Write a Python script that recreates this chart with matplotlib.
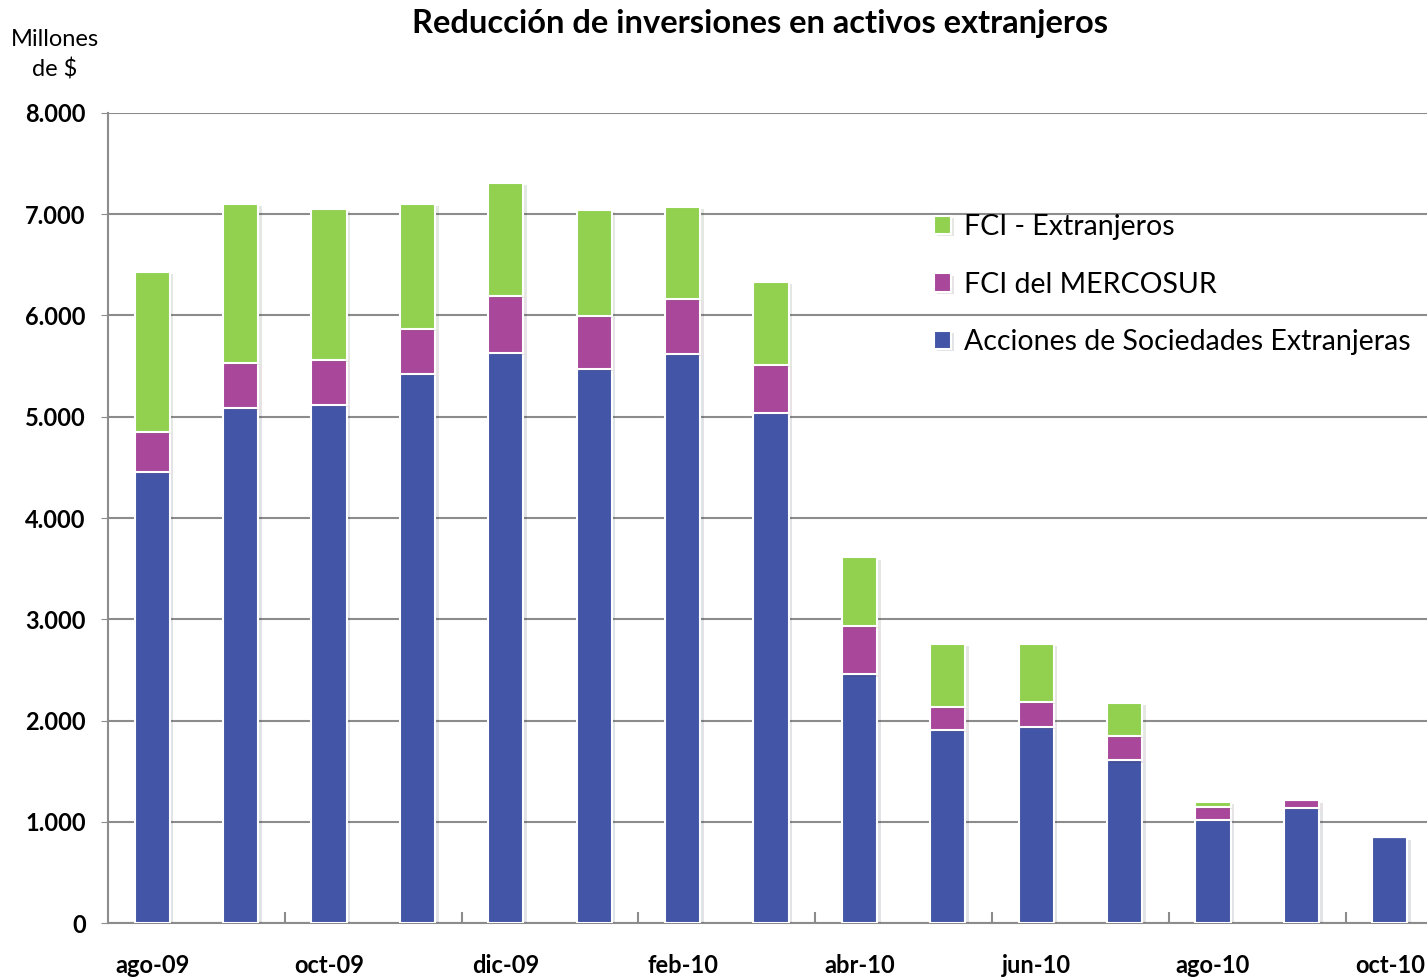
"""Stacked bars: reducción de inversiones en activos extranjeros (ago-09 a oct-10)."""

import matplotlib.pyplot as plt
import matplotlib.patheffects as pe
import numpy as np

months = ["ago-09", "sep-09", "oct-09", "nov-09", "dic-09", "ene-10", "feb-10",
          "mar-10", "abr-10", "may-10", "jun-10", "jul-10", "ago-10", "sep-10",
          "oct-10"]
acciones = [4455, 5085, 5115, 5420, 5630, 5470, 5620, 5035, 2455, 1905, 1940,
            1605, 1015, 1135, 845]
mercosur = [395, 450, 445, 445, 560, 525, 545, 475, 480, 230, 240, 240, 135,
            75, 0]
fci_ext = [1580, 1565, 1495, 1235, 1120, 1045, 905, 820, 675, 620, 575, 330,
           45, 0, 0]
y_ticks = [0, 1000, 2000, 3000, 4000, 5000, 6000, 7000, 8000]
y_labels = ["0", "1.000", "2.000", "3.000", "4.000", "5.000", "6.000",
            "7.000", "8.000"]

_BLUE = "#4355A6"
_PURPLE = "#A9479A"
_GREEN = "#92D050"
_GRID = "#8c8c8c"

plt.rcParams["font.family"] = ["Lato", "DejaVu Sans"]

fig = plt.figure(figsize=(14.27, 9.8), dpi=100)
ax = fig.add_axes([108 / 1427, 57 / 980, 1326 / 1427, 810 / 980])

x = np.arange(len(months))
acc = np.array(acciones)
mer = np.array(mercosur)
ext = np.array(fci_ext)
shadow = [pe.SimplePatchShadow(offset=(2.5, -1.5), alpha=0.12), pe.Normal()]
w = 0.4
b1 = ax.bar(x, acc, w, color=_BLUE, edgecolor="white", linewidth=1.5,
            label="Acciones de Sociedades Extranjeras", zorder=3)
b2 = ax.bar(x, mer, w, bottom=acc, color=_PURPLE, edgecolor="white",
            linewidth=1.5, label="FCI del MERCOSUR", zorder=3)
b3 = ax.bar(x, ext, w, bottom=acc + mer, color=_GREEN, edgecolor="white",
            linewidth=1.5, label="FCI - Extranjeros", zorder=3)
for bars in (b1, b2, b3):
    for p in bars:
        p.set_path_effects(shadow)

ax.set_xlim(-0.5, len(months) - 0.5)
ax.set_ylim(0, 8000)
ax.set_yticks(y_ticks)
ax.set_yticklabels(y_labels, fontsize=17, fontweight="bold")
ax.tick_params(axis="y", length=5, color=_GRID, pad=11)
ax.yaxis.grid(True, color=_GRID, linewidth=1.5, zorder=0)
ax.set_axisbelow(True)

ax.set_xticks(x[::2])
ax.set_xticklabels(months[::2], fontsize=17, fontweight="bold")
ax.set_xticks(np.arange(1.5, len(months) - 1, 2), minor=True)
ax.tick_params(axis="x", which="major", length=0, pad=22)
ax.tick_params(axis="x", which="minor", direction="in", length=8,
               color=_GRID, width=1.5)

for side in ("top", "right"):
    ax.spines[side].set_visible(False)
for side in ("left", "bottom"):
    ax.spines[side].set_color(_GRID)
    ax.spines[side].set_linewidth(1.5)

handles, labels = ax.get_legend_handles_labels()
ax.legend(handles[::-1], labels[::-1], loc="upper left",
          bbox_to_anchor=(908 / 1427, 1 - 188 / 980), bbox_transform=fig.transFigure,
          frameon=False, fontsize=20.5, handlelength=0.6, handleheight=0.6,
          handletextpad=0.45, labelspacing=1.12)

fig.text(0.5325, 1 - 24 / 980, "Reducción de inversiones en activos extranjeros",
         ha="center", va="center", fontsize=23.5, fontweight="bold")
fig.text(55 / 1427, 1 - 55 / 980, "Millones\nde $", ha="center", va="center",
         fontsize=17, linespacing=1.45)

fig.savefig("out.png", dpi=100)
plt.close(fig)
